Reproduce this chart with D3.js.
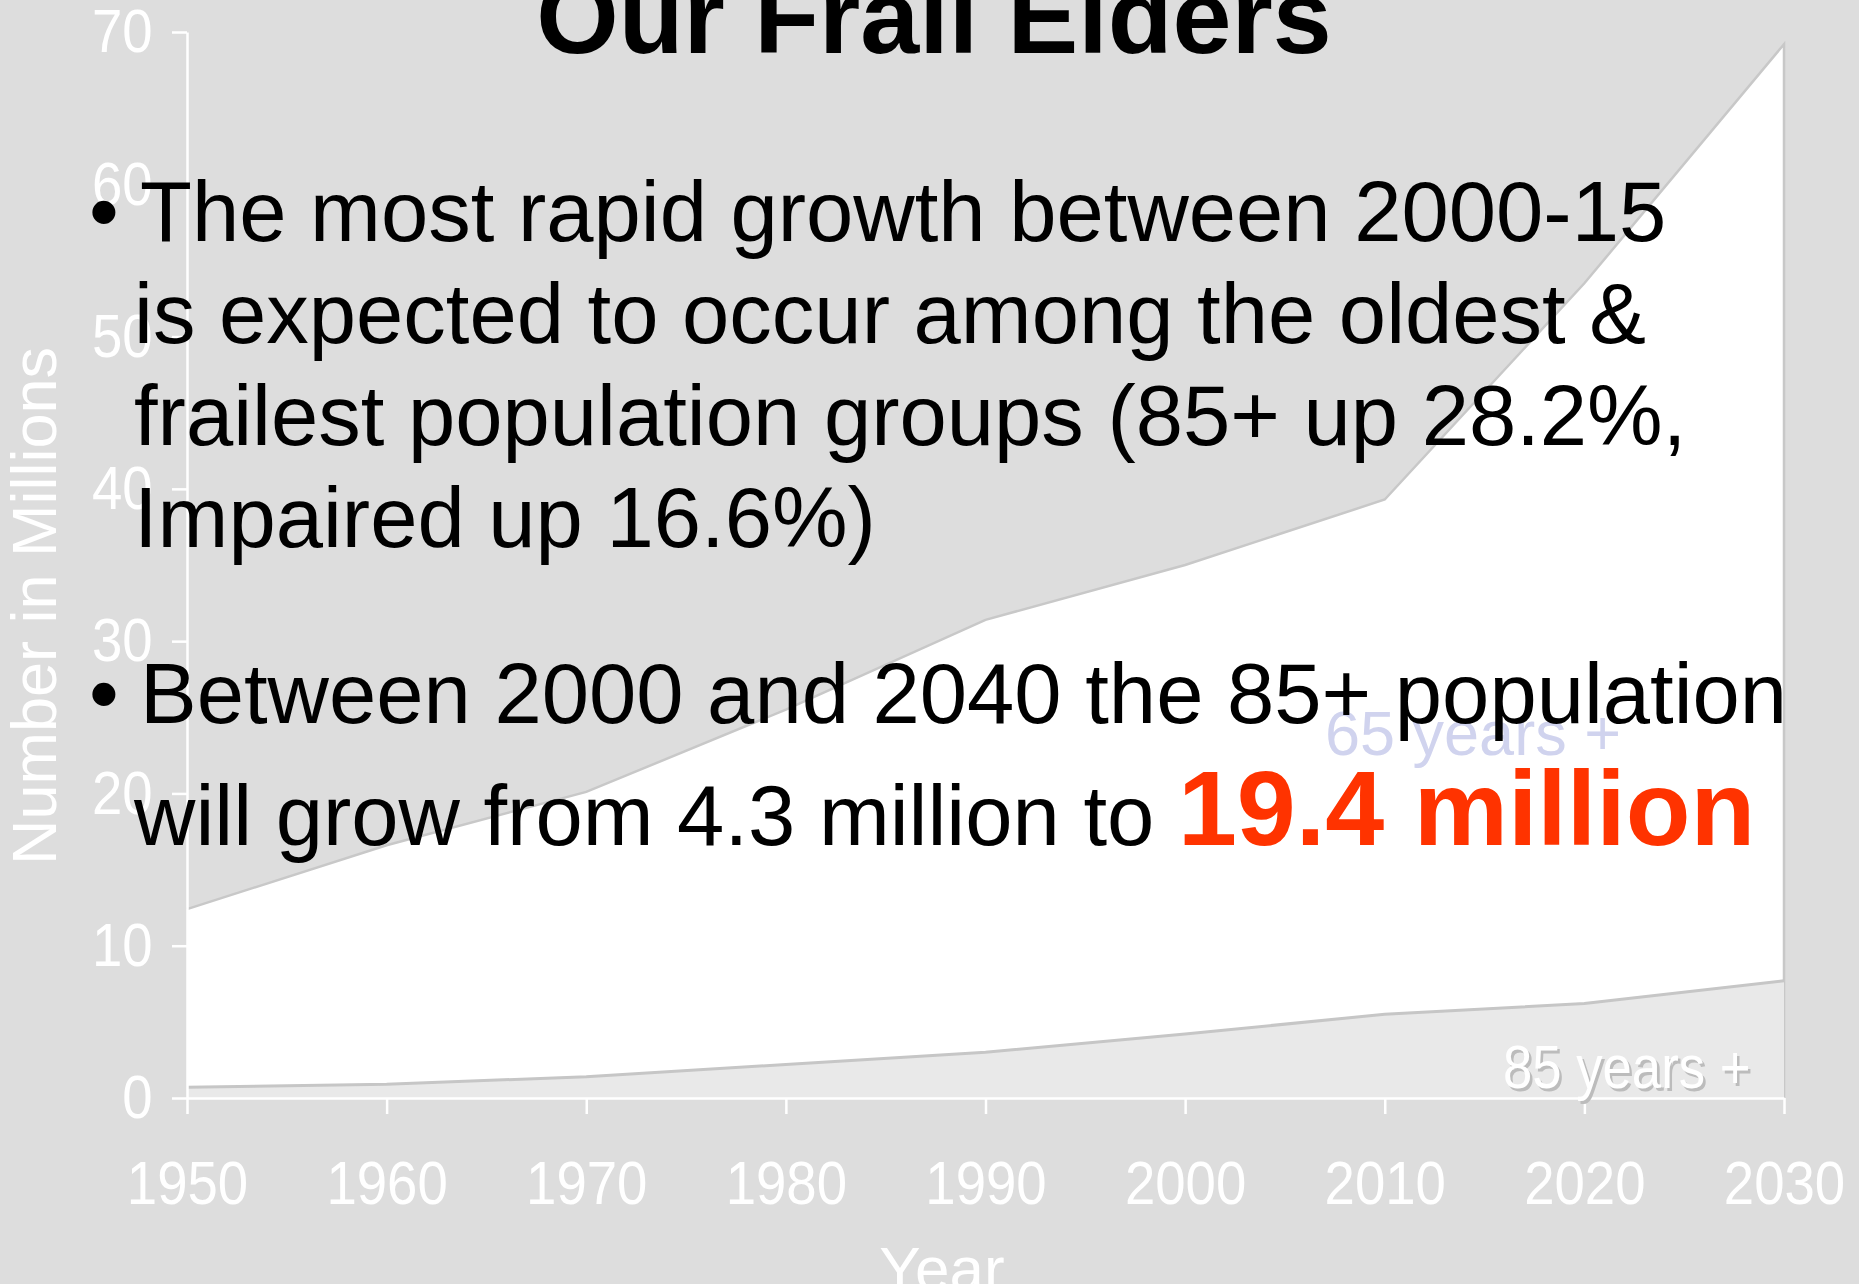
<!DOCTYPE html>
<html>
<head>
<meta charset="utf-8">
<script src="https://cdn.jsdelivr.net/npm/d3@7"></script>
<style>
  body { margin: 0; background: #dddddd; }
  svg { display: block; font-family: "Liberation Sans", Arial, sans-serif; }
</style>
</head>
<body>
<div id="chart"></div>
<script>
// data (millions of people)
const years = [1950, 1960, 1970, 1980, 1990, 2000, 2010, 2020, 2030];
const over65 = [12.4, 16.6, 20.1, 25.5, 31.4, 35.0, 39.3, 53.5, 69.2];
const over85 = [0.7, 0.9, 1.4, 2.2, 3.0, 4.2, 5.5, 6.2, 7.7];
const yTicks = [0, 10, 20, 30, 40, 50, 60, 70];

const w = 1859;
const h = 1284;

const xScale = d3.scaleLinear().domain([1950, 2030]).range([187, 1784]);
const yScale = d3.scaleLinear().domain([0, 70]).range([1098, 32]);

const svg = d3.select('#chart')
              .append('svg')
              .attr('width', w)
              .attr('height', h);

svg.append('rect')
   .attr('width', w)
   .attr('height', h)
   .attr('fill', '#dddddd');

//Areas
const area = d3.area()
               .x((d, i) => xScale(years[i]))
               .y0(yScale(0))
               .y1(d => yScale(d));

svg.append('path')
   .datum(over65)
   .attr('d', area)
   .attr('fill', '#ffffff');

// grey outline on top edge and down the right side
const top65 = over65.map((d, i) => [xScale(years[i]), yScale(d)]);
top65.push([xScale(2030), yScale(0)]);
svg.append('path')
   .attr('d', d3.line()(top65))
   .attr('fill', 'none')
   .attr('stroke', '#c8c8c8')
   .attr('stroke-width', 2.5);

svg.append('path')
   .datum(over85)
   .attr('d', area)
   .attr('fill', '#e9e9e9');

svg.append('path')
   .datum(over85)
   .attr('d', d3.line().x((d, i) => xScale(years[i])).y(d => yScale(d)))
   .attr('fill', 'none')
   .attr('stroke', '#c6c6c6')
   .attr('stroke-width', 3);

//Axes
const xAxis = d3.axisBottom(xScale)
                .tickValues(years)
                .tickFormat(d3.format('d'))
                .tickSize(16)
                .tickSizeOuter(0)
                .tickPadding(46);

const yAxis = d3.axisLeft(yScale)
                .tickValues(yTicks)
                .tickSize(15)
                .tickSizeOuter(0)
                .tickPadding(24);

const gx = svg.append('g')
   .attr('transform', `translate(0, ${yScale(0)})`)
   .attr('id', 'x-axis')
   .call(xAxis);

const gy = svg.append('g')
   .attr('transform', `translate(${xScale(1950)}, 0)`)
   .attr('id', 'y-axis')
   .call(yAxis);

[gx, gy].forEach(g => {
  g.selectAll('path, line').attr('stroke', '#ffffff').attr('stroke-width', 2.5);
  g.selectAll('text')
   .attr('fill', '#ffffff')
   .attr('font-family', '"Liberation Sans", Arial, sans-serif');
});
gx.selectAll('text').attr('font-size', 62).attr('transform', 'scale(0.88,1)');
gy.selectAll('text').attr('font-size', 62).attr('transform', 'scale(0.88,1)');

//Axes labels
svg.append('text')
   .attr('transform', 'translate(56, 606) rotate(-90)')
   .attr('text-anchor', 'middle')
   .attr('fill', '#ffffff')
   .attr('font-size', 63)
   .text('Number in Millions');

svg.append('text')
   .attr('x', 942)
   .attr('y', 1290)
   .attr('text-anchor', 'middle')
   .attr('fill', '#ffffff')
   .attr('font-size', 62)
   .text('Year');

//Series labels
svg.append('text')
   .attr('x', 1325)
   .attr('y', 755)
   .attr('fill', '#d0d3ee')
   .attr('font-size', 63)
   .text('65 years +');

const lab85 = svg.append('g').attr('transform', 'translate(1503, 1088) scale(0.85,1)');
lab85.append('text')
   .attr('x', 3)
   .attr('y', 3)
   .attr('fill', '#bcbcbc')
   .attr('font-size', 62)
   .text('85 years +');
lab85.append('text')
   .attr('fill', '#ffffff')
   .attr('font-size', 62)
   .text('85 years +');

//Slide title and bullets
svg.append('text')
   .attr('x', 934)
   .attr('y', 53)
   .attr('text-anchor', 'middle')
   .attr('font-weight', 'bold')
   .attr('font-size', 106)
   .attr('fill', '#000000')
   .text('Our Frail Elders');

const bullets = [
  { y: 241, step: 102,
    lines: ['The most rapid growth between 2000-15',
            'is expected to occur among the oldest &',
            'frailest population groups (85+ up 28.2%,',
            'Impaired up 16.6%)'] },
  { y: 723, step: 122,
    lines: ['Between 2000 and 2040 the 85+ population',
            'will grow from 4.3 million to '] }
];

bullets.forEach((b, bi) => {
  svg.append('text')
     .attr('x', 89)
     .attr('y', b.y)
     .attr('font-size', 85)
     .attr('fill', '#000000')
     .text('\u2022');
  b.lines.forEach((line, i) => {
    const t = svg.append('text')
       .attr('x', i === 0 ? 140 : 134)
       .attr('y', b.y + i * b.step)
       .attr('font-size', 85)
       .attr('fill', '#000000')
       .attr('xml:space', 'preserve')
       .text(line);
    if (bi === 1 && i === 1) {
      t.append('tspan')
       .attr('font-weight', 'bold')
       .attr('font-size', 106)
       .attr('fill', '#ff3300')
       .text('19.4 million');
    }
  });
});
</script>
</body>
</html>
